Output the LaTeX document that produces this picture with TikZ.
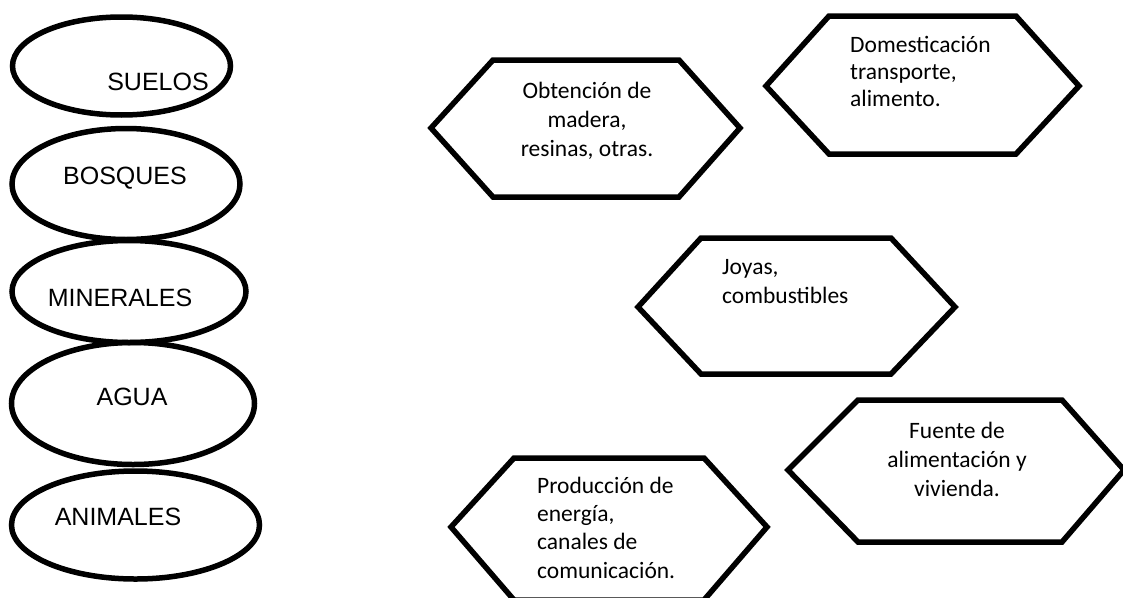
\documentclass[tikz,border=0pt]{standalone}
\usepackage{fontspec}
\setmainfont{Carlito}
\newfontfamily\arialf{Liberation Sans}
\begin{document}
\begin{tikzpicture}[x=1pt,y=-1pt,
  shapeline/.style={line width=5.5pt, line join=miter},
  ellabel/.style={font=\arialf\fontsize{25}{30}\selectfont, inner sep=0pt},
  hexlabel/.style={font=\fontsize{23.5}{29}\selectfont, inner sep=0pt},
]
\useasboundingbox (0,0) rectangle (1123,597);
\fill[white] (0,0) rectangle (1123,597);

% ellipses
\draw[shapeline] (121.5,66) ellipse [x radius=109pt, y radius=49pt];
\draw[shapeline] (126,184) ellipse [x radius=114pt, y radius=55.5pt];
\draw[shapeline] (129,291.5) ellipse [x radius=117pt, y radius=51pt];
\draw[shapeline] (133,403.5) ellipse [x radius=121.5pt, y radius=61pt];
\draw[shapeline] (135.5,525) ellipse [x radius=124pt, y radius=54pt];

\node[ellabel] (suelos) at (158,82) {SUELOS};
\node[ellabel] (bosques) at (125,178) {BOSQUES};
\node[ellabel] (minerales) at (120,298) {MINERALES};
\node[ellabel] (agua) at (132,397) {AGUA};
\node[ellabel] (animales) at (118,517) {ANIMALES};

% hexagons
\draw[shapeline] (431,128) -- (493,60) -- (679,60) -- (740,128) -- (679,197) -- (493,197) -- cycle;
\draw[shapeline] (766,86) -- (829,16) -- (1016,16) -- (1079,86) -- (1016,154) -- (829,154) -- cycle;
\draw[shapeline] (638,307) -- (701,238) -- (891,238) -- (955,307) -- (891,374) -- (701,374) -- cycle;
\draw[shapeline] (451,527) -- (514,458) -- (704,458) -- (767,527) -- (704,600) -- (514,600) -- cycle;
\draw[shapeline] (788,470) -- (858,400) -- (1062,400) -- (1124,470) -- (1062,542) -- (858,542) -- cycle;

\node[hexlabel, align=center] (madera) at (587,121) {Obtención de\\madera,\\resinas, otras.};
\node[hexlabel, align=left, anchor=west, font=\fontsize{23.5}{27}\selectfont] (domest) at (850,71) {Domesticación\\transporte,\\alimento.};
\node[hexlabel, align=left, anchor=west] (joyas) at (722,282) {Joyas,\\combustibles};
\node[hexlabel, align=left, anchor=west, font=\fontsize{23.5}{28.3}\selectfont] (energia) at (537,527.5) {Producción de\\energía,\\canales de\\comunicación.};
\node[hexlabel, align=center] (fuente) at (957,459) {Fuente de\\alimentación y\\vivienda.};
\end{tikzpicture}
\end{document}
